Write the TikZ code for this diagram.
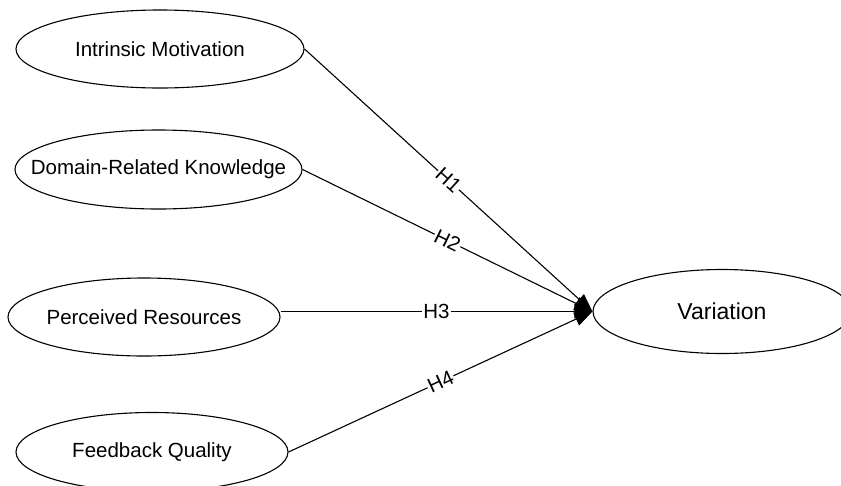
\documentclass[tikz,border=0pt]{standalone}
\usepackage{fontspec}
\setmainfont{Liberation Sans}
\usetikzlibrary{shapes.geometric,arrows.meta}

\tikzset{
  construct/.style={draw,ellipse,line width=1.1pt,inner sep=0pt,
    font=\fontsize{20.5}{24}\selectfont},
  path/.style={line width=1.1pt,-{Triangle[length=18pt,width=14pt]}},
  hyp/.style={fill=white,inner sep=1pt,sloped,font=\fontsize{20.5}{24}\selectfont}
}

\begin{document}
\begin{tikzpicture}[x=1pt,y=-1pt]%research model
\useasboundingbox (0,0) rectangle (841,485);
\node[construct,minimum width=288pt,minimum height=78pt] (im) at (160,49){\makebox[0pt]{Intrinsic Motivation}};
\node[construct,minimum width=287pt,minimum height=79pt] (drk) at (158.5,169.5){\makebox[0pt]{Domain-Related Knowledge}};
\node[construct,minimum width=272pt,minimum height=78pt] (pr) at (144,317){\makebox[0pt]{Perceived Resources}};
\node[construct,minimum width=272pt,minimum height=79pt] (fq) at (152,452){\makebox[0pt]{Feedback Quality}};
\node[construct,minimum width=258pt,minimum height=84pt,font=\fontsize{23}{27}\selectfont] (var) at (722,311.5){\makebox[0pt]{Variation}};
\draw[path] (im.east) -- node[hyp]{H1} (var.west);
\draw[path] (drk.east) -- node[hyp]{H2} (var.west);
\draw[path] (pr.east |- var.west) -- node[hyp]{H3} (var.west);
\draw[path] (fq.east) -- node[hyp]{H4} (var.west);
\end{tikzpicture}
\end{document}
